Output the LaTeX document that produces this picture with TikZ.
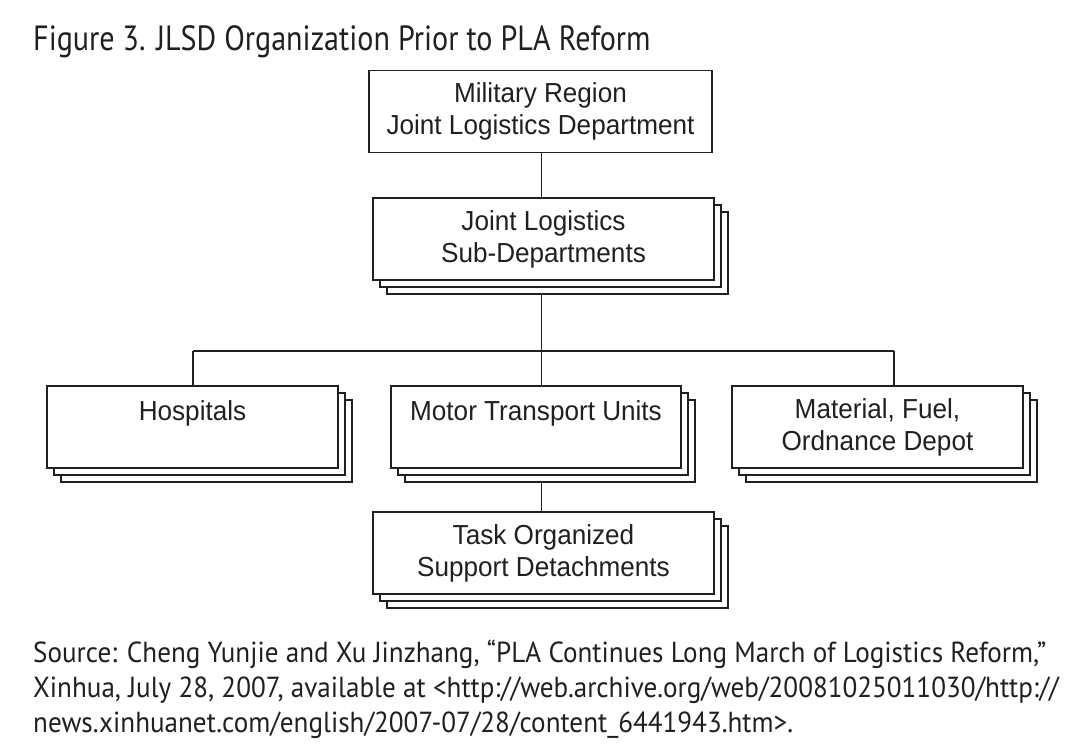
\documentclass[tikz,border=0pt]{standalone}
\usepackage{fontspec}
\setmainfont{PT Sans}
\newfontfamily\titlefont[FakeStretch=0.86]{PT Sans}
\newfontfamily\srcfont[FakeStretch=0.935]{PT Sans}
\newfontfamily\boxfont[FakeStretch=0.95]{Liberation Sans}
\usetikzlibrary{shadows,backgrounds}
\definecolor{ink}{HTML}{231F20}
\begin{document}
\begin{tikzpicture}[x=1pt,y=-1pt,
  orgbox/.style={draw=ink, line width=1.3pt, fill=white, inner sep=0pt,
    minimum height=82pt, align=center, text=ink,
    font=\boxfont\fontsize{27.5}{32}\selectfont},
  stacked/.style={
    copy shadow={shadow xshift=14pt, shadow yshift=-14pt, draw=ink, line width=1.3pt, fill=white},
    copy shadow={shadow xshift=7pt, shadow yshift=-7pt, draw=ink, line width=1.3pt, fill=white}},
  topalign/.style={text height=34pt, text depth=48pt},
  conn/.style={draw=ink, line width=1.3pt},
  caption/.style={anchor=base west, inner sep=0pt, text=ink},
  srctext/.style={caption, font=\srcfont\fontsize{29}{35}\selectfont}]
\useasboundingbox (0,0) rectangle (1088,744);

\node[caption, font=\titlefont\fontsize{35}{40}\selectfont] (title) at (33,50) {Figure 3. JLSD Organization Prior to PLA Reform};

\node[orgbox, minimum width=343pt] (mr) at (540.5,111.5) {Military Region\\Joint Logistics Department};
\node[orgbox, stacked, minimum width=341pt] (jl) at (543.5,239) {Joint Logistics\\Sub-Departments};
\node[orgbox, stacked, topalign, minimum width=291pt] (hosp) at (192.5,427) {Hospitals};
\node[orgbox, stacked, topalign, minimum width=290pt] (mot) at (536,427) {Motor Transport Units};
\node[orgbox, stacked, minimum width=291pt] (mat) at (877.5,427) {Material, Fuel,\\Ordnance Depot};
\node[orgbox, stacked, minimum width=341pt] (task) at (543.5,553) {Task Organized\\Support Detachments};

\node[srctext] (src1) at (33,662) {Source: Cheng Yunjie and Xu Jinzhang, “PLA Continues Long March of Logistics Reform,”};
\node[srctext] (src2) at (33,697) {Xinhua, July 28, 2007, available at <http://web.archive.org/web/20081025011030/http://};
\node[srctext] (src3) at (33,732) {news.xinhuanet.com/english/2007-07/28/content\_6441943.htm>.};

\coordinate (jn) at (541.5,351);
\coordinate (hl) at (193,351);
\coordinate (hr) at (894,351);

\begin{scope}[on background layer]
\fill[white] (0,0) rectangle (1088,744);
\draw[conn] (mr.south -| jn) -- (jl.north -| jn);
\draw[conn] (jl.south -| jn) -- (jn);
\draw[conn] (hl) -- (hr);
\draw[conn] (hl) -- (hl |- hosp.north);
\draw[conn] (hr) -- (hr |- mat.north);
\draw[conn] (jn) -- (jn |- mot.north);
\draw[conn] (jn |- mot.south) -- (jn |- task.north);
\end{scope}
\end{tikzpicture}
\end{document}
